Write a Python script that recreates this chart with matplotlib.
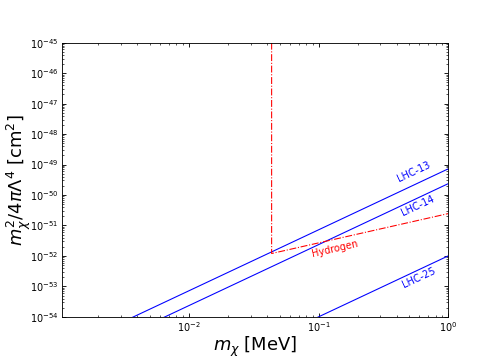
import numpy as np
import matplotlib
matplotlib.use('Agg')
import matplotlib.pyplot as plt

# mass range (MeV)
m_lo, m_hi = 1.05e-3, 1.0

# LHC bounds scale as m^2, value at m = 1 MeV
lhc_names = ['LHC-13', 'LHC-14', 'LHC-25']
lhc_at_1 = [7.2e-50, 2.35e-50, 1.0e-52]
lhc_label_x = [0.54, 0.58, 0.59]
lhc_label_y = [10**-49.25, 10**-50.34, 10**-52.71]

# Hydrogen bound (corner points)
hyd_m = [0.0434, 0.0434, 1.0]
hyd_y = [1e-45, 1.2e-52, 2.45e-51]

m = np.logspace(-3, 0, 200)

fig = plt.figure(figsize=(6.4, 4.576), dpi=77.8)
ax = fig.add_subplot(111)

for name, c, lx, ly in zip(lhc_names, lhc_at_1, lhc_label_x, lhc_label_y):
    ax.plot(m, c * m**2, color='blue', lw=1)
    ax.text(lx, ly, name, color='blue', rotation=25, ha='center', va='center', fontsize=9)

ax.plot(hyd_m, hyd_y, 'r-.', lw=1)
ax.text(0.133, 10**-51.76, 'Hydrogen', color='red', rotation=13, ha='center', va='center', fontsize=9)

ax.set_xscale('log')
ax.set_yscale('log')
ax.set_xlim(m_lo, m_hi)
ax.set_ylim(1e-54, 1e-45)
ax.tick_params(which='both', direction='in', top=True, right=True, labelsize=9)
ax.set_xlabel(r'$m_\chi$ [MeV]', fontsize=16.5, labelpad=0)
ax.set_ylabel(r'$m_\chi^2/4\pi\Lambda^4$ [cm$^2$]', fontsize=16.5, labelpad=-3)

fig.savefig('out.png', dpi=77.8)
